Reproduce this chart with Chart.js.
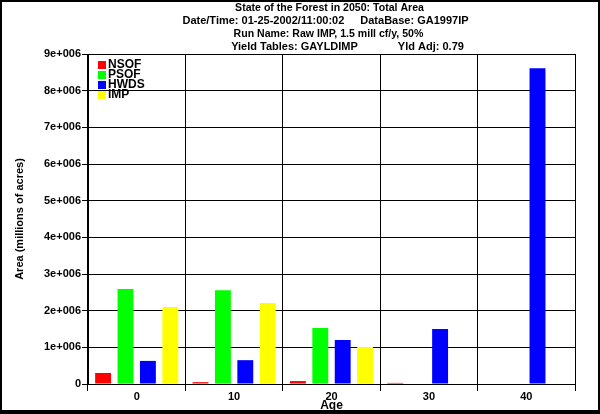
<!DOCTYPE html>
<html>
<head>
<meta charset="utf-8">
<script src="https://cdn.jsdelivr.net/npm/chart.js@4"></script>
<style>
  html, body { margin: 0; padding: 0; background: #fff; }
  #wrap { width: 600px; height: 414px; }
</style>
</head>
<body>
<div id="wrap"><canvas id="forestChart" width="600" height="414"></canvas></div>
<script>
// data
const ages = ['0', '10', '20', '30', '40'];
const nsof = [300000, 50000, 80000, 30000, 0];
const psof = [2590000, 2560000, 1530000, 0, 0];
const hwds = [630000, 650000, 1200000, 1500000, 8610000];
const imp = [2100000, 2210000, 1010000, 0, 0];
const seriesNames = ['NSOF', 'PSOF', 'HWDS', 'IMP'];
const seriesColors = ['#ff0000', '#00ff00', '#0000ff', '#ffff00'];
const titleLines = [
    ['State of the Forest in 2050: Total Area'],
    ['Date/Time: 01-25-2002/11:00:02', 'DataBase: GA1997IP'],
    ['Run Name: Raw IMP, 1.5 mill cf/y, 50%'],
    ['Yield Tables: GAYLDIMP', 'Yld Adj: 0.79']
];

const FONT = '"Liberation Sans", Arial, sans-serif';
Chart.defaults.color = '#000';
Chart.defaults.font.family = FONT;

// title lines, legend box and outer frame
const decorations = {
    id: 'decorations',
    afterDraw(chart) {
        const ctx = chart.ctx;
        const area = chart.chartArea;
        const cx = (area.left + area.right) / 2;
        // per title line: horizontal squeeze, gap between halves, shift
        const squeeze = [0.96, 1, 0.96, 1];
        const gaps = [0, 16, 0, 40];
        const shifts = [-2, -6, -3, 16];
        ctx.save();
        ctx.fillStyle = '#000';
        ctx.font = 'bold 11px ' + FONT;
        ctx.textBaseline = 'middle';
        ctx.textAlign = 'left';
        titleLines.forEach((parts, i) => {
            const y = 8 + i * 13;
            const widths = parts.map(p => ctx.measureText(p).width * squeeze[i]);
            const total = widths.reduce((a, b) => a + b, 0) + gaps[i];
            let x = cx + shifts[i] - total / 2;
            parts.forEach((p, j) => {
                ctx.save();
                ctx.translate(x, y);
                ctx.scale(squeeze[i], 1);
                ctx.fillText(p, 0, 0);
                ctx.restore();
                x += widths[j] + gaps[i];
            });
        });

        // legend inside the plot
        ctx.font = 'bold 12px ' + FONT;
        chart.data.datasets.forEach((ds, i) => {
            const y = area.top + 7 + i * 10;
            ctx.fillStyle = ds.backgroundColor;
            ctx.fillRect(area.left + 10, y, 8, 8);
            ctx.fillStyle = '#000';
            ctx.fillText(ds.label, area.left + 20, y + 4);
        });

        // frame
        ctx.strokeStyle = '#000';
        ctx.lineWidth = 2;
        ctx.strokeRect(1, 1, 598, 410);
        ctx.fillRect(0, 411, 600, 3);
        ctx.restore();
    }
};

const seriesData = [nsof, psof, hwds, imp];
const ctx = document.getElementById('forestChart').getContext('2d');
const forestChart = new Chart(ctx, {
    type: 'bar',
    data: {
        labels: ages,
        datasets: seriesNames.map((name, i) => ({
            label: name,
            data: seriesData[i],
            backgroundColor: seriesColors[i],
            borderWidth: 0,
            categoryPercentage: 0.92,
            barPercentage: 0.71
        }))
    },
    options: {
        responsive: false,
        animation: false,
        layout: {
            padding: { top: 54, left: 0, right: 25, bottom: 0 }
        },
        plugins: {
            legend: { display: false },
            title: { display: false },
            tooltip: { enabled: false }
        },
        scales: {
            x: {
                afterFit: (s) => { s.height = 30; },
                grid: { color: '#000', lineWidth: 1, tickLength: 7 },
                border: { color: '#000', width: 1 },
                ticks: { padding: -1, font: { size: 11, weight: 'bold' } },
                title: {
                    display: true,
                    text: 'Age',
                    font: { size: 12, weight: 'bold' },
                    padding: { top: 0, bottom: 1 }
                }
            },
            y: {
                min: 0,
                max: 9000000,
                afterFit: (s) => { s.width = 88; },
                grid: { color: '#000', lineWidth: 1, tickLength: 6 },
                border: { color: '#000', width: 1 },
                ticks: {
                    stepSize: 1000000,
                    padding: 1,
                    font: { size: 11, weight: 'bold' },
                    callback: (v) => v === 0 ? '0' : (v / 1000000) + 'e+006'
                },
                title: {
                    display: true,
                    text: 'Area (millions of acres)',
                    font: { size: 11, weight: 'bold' },
                    padding: { top: 13, bottom: 0 }
                }
            }
        }
    },
    plugins: [decorations]
});
</script>
</body>
</html>
